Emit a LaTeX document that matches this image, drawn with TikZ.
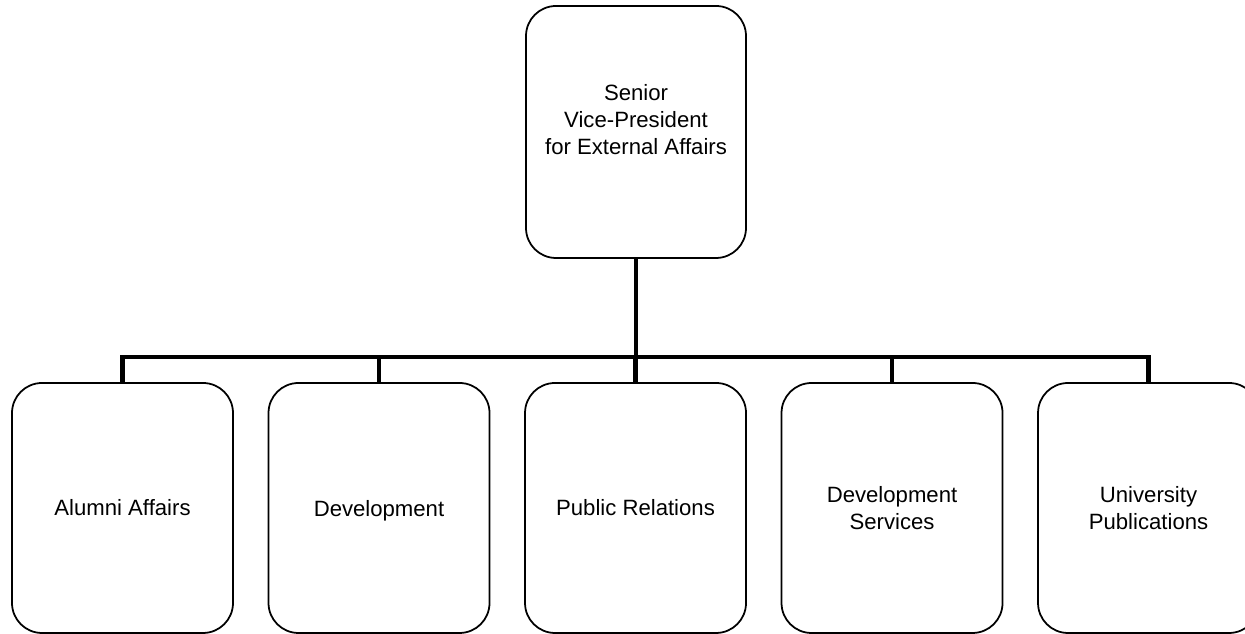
\documentclass[tikz,border=0pt]{standalone}
\usepackage{fontspec}
\setmainfont{Liberation Sans}
\usepackage{tikz}
\usetikzlibrary{positioning}
\tikzstyle{unit} = [draw, line width=1pt, rounded corners=0.6cm, minimum width=4.42cm, minimum height=5cm, align=center, font=\fontsize{12.6}{15.4}\selectfont]
\tikzstyle{bus} = [line width=2.8pt, line join=miter]

\begin{document}
\begin{tikzpicture}
\useasboundingbox (0,0) rectangle (24.9,12.68);
\clip (0,0) rectangle (24.9,12.68);
% Senior Vice-President
\node[unit, minimum width=4.4cm, minimum height=5.04cm] (svp) at (12.72,10.04) {};
\node[align=center, font=\fontsize{12.6}{15.4}\selectfont] (svptext) at ([yshift=0.24cm]svp.center) {Senior\\Vice-President\\for External Affairs};

% Units
\node[unit] (alumni) at (2.45,2.52) {Alumni Affairs};
\node[unit, text depth=0pt, right=0.675cm of alumni] (dev) {Development};
\node[unit, right=0.675cm of dev] (pr) {Public Relations};
\node[unit, right=0.675cm of pr] (devserv) {Development\\Services};
\node[unit, right=0.675cm of devserv] (pub) {University\\Publications};

% Lines
\coordinate (bar) at (0,5.54);
\draw[bus] (alumni.north) |- (svp.south |- bar) -| (pub.north);
\draw[bus] (svp.south) -- (svp.south |- bar);
\foreach \n in {dev,pr,devserv}
  \draw[bus] (\n.north) -- (\n.north |- bar);
\end{tikzpicture}
\end{document}
